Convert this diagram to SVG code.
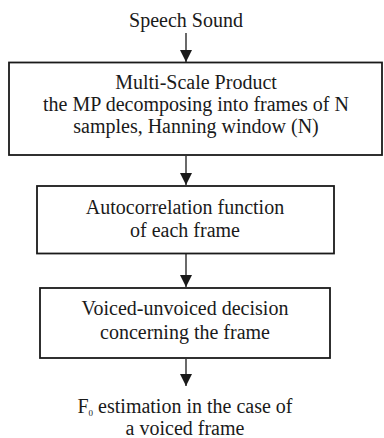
<svg xmlns="http://www.w3.org/2000/svg" width="384" height="438" viewBox="0 0 384 438">
<style>
text{font-family:"Liberation Serif","Times New Roman",serif;font-size:20px;fill:#1a1a1a;text-anchor:middle}
.box{fill:#fff;stroke:#1a1a1a;stroke-width:1.8}
.conn{stroke:#1a1a1a;stroke-width:1.3;fill:none;marker-end:url(#ah)}
</style>
<defs>
<marker id="ah" markerUnits="userSpaceOnUse" markerWidth="12" markerHeight="13" refX="12" refY="6" orient="auto">
<path d="M0,0 L12,6 L0,12 Z" fill="#1a1a1a"/>
</marker>
</defs>
<rect width="384" height="438" fill="#fff"/>
<g id="connectors">
<line class="conn" x1="186" y1="33" x2="186" y2="62"/>
<line class="conn" x1="186" y1="156" x2="186" y2="185"/>
<line class="conn" x1="186" y1="254" x2="186" y2="287"/>
<line class="conn" x1="186" y1="359" x2="186" y2="386"/>
</g>
<g id="speech">
<text x="186" y="27">Speech Sound</text>
</g>
<g id="mp">
<rect class="box" x="9" y="62.5" width="373" height="92.5"/>
<text x="196" y="89">Multi-Scale Product</text>
<text x="196" y="111">the MP decomposing into frames of N</text>
<text x="196" y="133">samples, Hanning window (N)</text>
</g>
<g id="autocorr">
<rect class="box" x="37" y="186" width="297" height="67.5"/>
<text x="185" y="214">Autocorrelation function</text>
<text x="185" y="237">of each frame</text>
</g>
<g id="vuv">
<rect class="box" x="40" y="288" width="290" height="70"/>
<text x="185" y="315">Voiced-unvoiced decision</text>
<text x="185" y="339">concerning the frame</text>
</g>
<g id="f0">
<text x="185" y="413">F<tspan font-size="9" dy="3">0</tspan><tspan dy="-3"> estimation in the case of</tspan></text>
<text x="185" y="435">a voiced frame</text>
</g>
</svg>
